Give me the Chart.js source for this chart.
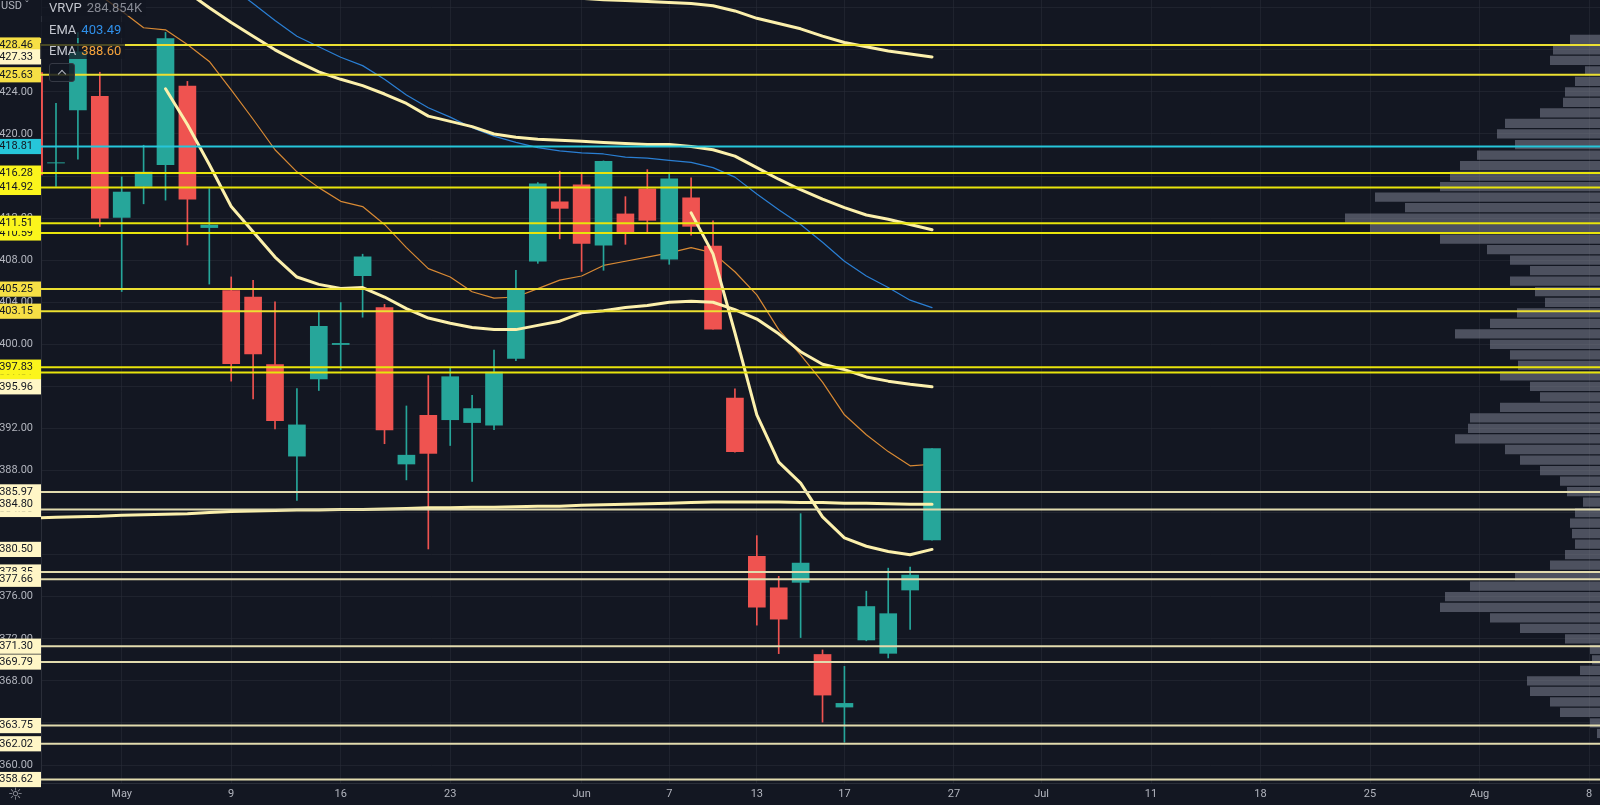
<!DOCTYPE html>
<html>
<head>
<meta charset="utf-8">
<title>SPY daily</title>
<script src="https://cdn.jsdelivr.net/npm/chart.js@4.4.1/dist/chart.umd.min.js"></script>
<style>
  html, body { margin: 0; padding: 0; background: #131722; }
  #wrap { position: relative; width: 1600px; height: 805px; overflow: hidden; }
  .ovl { position: absolute; font-family: Roboto, "Liberation Sans", sans-serif; white-space: nowrap; }
  .lg { left: 40px; padding: 0 4px 0 9px; height: 16px; line-height: 16px; font-size: 13px; background: rgba(19,23,34,0.75); }
  .nm { color: #c3c6ce; margin-right: 5px; }
  .dim { color: #868993; }
  .usd { left: 1px; top: -1px; font-size: 11px; color: #b2b5be; }
  .btn { left: 49px; top: 63px; width: 24px; height: 17px; border: 1px solid #363a45; border-radius: 3px; background: rgba(19,23,34,0.85); }
  .btn span { position: absolute; left: 9px; top: 7px; width: 5px; height: 5px; border-left: 1.5px solid #b2b5be; border-top: 1.5px solid #b2b5be; transform: rotate(45deg); }
  .gear { left: 8px; top: 784px; font-size: 17px; color: #9598a1; font-family: "DejaVu Sans", sans-serif; }
</style>
</head>
<body>
<div id="wrap">
  <canvas id="chart"></canvas>
  <div class="ovl usd">USD &#711;</div>
  <div class="ovl lg" style="top:0px"><span class="nm">VRVP</span><span class="dim">284.854K</span></div>
  <div class="ovl lg" style="top:22px"><span class="nm">EMA</span><span id="emaSlowTxt" style="color:#3090ea"></span></div>
  <div class="ovl lg" style="top:43px"><span class="nm">EMA</span><span id="emaFastTxt" style="color:#f5a33c"></span></div>
  <div class="ovl btn"><span></span></div>
  <div class="ovl gear">&#9788;</div>
</div>
<script>
// daily bars, Apr 26 .. Jun 24 (May 2 is bar 0)
const FIRST_BAR = -4;
const dates = ['Apr 26','Apr 27','Apr 28','Apr 29','May 2','May 3','May 4','May 5','May 6',
  'May 9','May 10','May 11','May 12','May 13','May 16','May 17','May 18','May 19','May 20',
  'May 23','May 24','May 25','May 26','May 27','May 31','Jun 1','Jun 2','Jun 3',
  'Jun 6','Jun 7','Jun 8','Jun 9','Jun 10','Jun 13','Jun 14','Jun 15','Jun 16','Jun 17',
  'Jun 21','Jun 22','Jun 23','Jun 24'];
const open = [425.83,417.24,422.29,423.59,412.07,415.01,417.08,424.55,411.10,
  405.10,404.49,398.07,389.37,396.71,399.98,406.53,403.50,388.62,393.25,
  392.83,392.56,392.31,398.67,407.91,413.55,415.17,409.42,412.40,
  414.78,408.10,413.93,409.34,394.88,379.85,376.85,377.37,370.51,365.51,
  371.89,370.62,376.64,381.40];
const high = [426.04,422.92,429.64,425.87,415.92,418.93,429.66,425.00,414.80,
  406.41,406.08,404.04,395.80,403.18,403.97,408.57,403.80,394.14,397.03,
  397.73,395.15,399.45,407.04,415.38,416.46,416.24,417.44,414.04,
  416.61,416.22,415.82,411.74,395.78,381.81,377.94,383.90,370.94,369.38,
  376.53,378.72,378.83,390.09];
const low = [416.07,415.01,417.60,411.21,405.02,413.36,413.71,409.44,405.73,
  396.50,394.82,391.95,385.15,395.61,397.60,402.58,390.55,387.11,380.54,
  390.38,386.96,391.89,398.45,407.70,410.03,406.93,407.04,409.51,
  410.55,407.61,410.38,401.44,389.75,373.30,370.59,372.12,364.08,362.17,
  371.81,370.18,372.89,381.37];
const close = [416.10,417.27,427.81,412.00,414.48,416.38,429.06,413.81,411.34,
  398.17,399.09,392.75,392.34,401.72,400.09,408.32,391.86,389.46,389.63,
  396.92,393.89,397.37,405.31,415.26,412.93,409.59,417.39,410.54,
  411.79,415.74,411.22,401.44,389.80,375.00,373.87,379.20,366.65,365.86,
  375.07,374.39,378.06,390.08];

// EMAs (thin lines)
const emaSlow = [null,null,null,null,null,null,null,null,435.5,
  434.0,432.4,430.8,429.3,428.3,427.3,426.5,425.2,423.7,422.5,
  421.6,420.6,419.8,419.2,418.7,418.4,418.2,418.1,417.8,
  417.7,417.5,417.3,416.8,415.9,414.3,412.8,411.4,409.7,407.9,
  406.5,405.4,404.2,403.49];
const emaFast = [437.5,436.0,434.6,433.2,431.7,430.1,429.9,428.5,426.9,
  424.2,421.4,418.5,416.4,414.9,413.6,413.1,411.4,409.2,407.2,
  406.4,405.0,404.4,404.5,405.3,406.1,406.5,407.5,407.9,
  408.3,408.7,409.2,408.7,406.9,404.7,401.4,399.0,396.4,393.3,
  391.4,389.8,388.45,388.60];

// anchored VWAP curves (thick lines)
const vwapTop = [null,null,null,null,null,null,null,null,null,
  null,null,null,null,null,null,null,null,null,null,
  null,null,null,434.3,433.6,433.1,432.9,432.76,432.7,
  432.6,432.5,432.4,432.2,431.7,431.0,430.5,430.0,429.3,428.7,
  428.3,427.9,427.6,427.33];
const vwapHigh = [null,null,null,null,null,null,435.0,433.5,432.0,
  430.6,429.3,428.0,426.9,425.9,425.2,424.6,423.8,422.9,421.7,
  421.2,420.7,420.0,419.7,419.5,419.4,419.3,419.2,419.1,
  419.0,419.0,418.8,418.5,417.9,416.8,415.7,414.7,413.8,413.0,
  412.3,411.9,411.4,410.9];
const vwapMay4 = [null,null,null,null,null,null,424.3,420.9,417.1,
  413.1,410.7,408.3,406.4,405.7,405.3,405.4,404.5,403.4,402.5,
  402.0,401.6,401.4,401.4,401.8,402.2,403.0,403.2,403.5,
  403.7,404.0,404.1,404.0,403.3,402.4,401.0,399.3,398.1,397.6,
  396.9,396.5,396.2,395.96];
const vwapLong = [383.5,383.55,383.6,383.65,383.75,383.8,383.85,383.9,384.0,
  384.1,384.15,384.2,384.25,384.25,384.3,384.3,384.35,384.4,384.45,
  384.45,384.5,384.5,384.55,384.6,384.6,384.7,384.75,384.8,
  384.85,384.9,384.95,385.0,385.0,385.0,385.0,384.95,384.95,384.9,
  384.9,384.85,384.8,384.80];
const vwapJun8 = [null,null,null,null,null,null,null,null,null,
  null,null,null,null,null,null,null,null,null,null,
  null,null,null,null,null,null,null,null,null,
  null,null,412.5,408.6,401.1,393.3,388.8,386.8,383.6,381.6,
  380.8,380.3,380.0,380.50];

// horizontal price levels (draw order matters for the scale tags)
const levelsGold = [428.46, 425.63, 405.25, 403.15];
const levelsYellow = [410.59, 411.51, 397.31, 397.83, 416.28, 414.92];
const levelsCyan = [418.81];
const levelsCream = [384.30, 378.35, 385.97, 377.66, 371.30, 369.79, 363.75, 362.02, 358.62];

// visible range volume profile (1-point rows)
const profilePrice = [363,364,365,366,367,368,369,370,371,372,373,374,375,376,377,378,379,380,
  381,382,383,384,385,386,387,388,389,390,391,392,393,394,395,396,397,398,399,400,
  401,402,403,404,405,406,407,408,409,410,411,412,413,414,415,416,417,418,419,420,
  421,422,423,424,425,426,427,428,429];
const profileVol = [30,100,400,500,700,730,200,80,100,350,800,1100,1600,1550,1300,850,500,350,
  250,280,300,250,170,330,400,600,800,950,1450,1320,1300,1000,600,700,1000,820,900,1100,
  1450,1100,830,550,650,900,700,900,1130,1600,2300,2550,1950,2250,1600,1500,1400,1230,850,1030,
  950,600,370,350,250,150,500,470,300];

// axes
const yTickValues = [360,364,368,372,376,380,384,388,392,396,400,404,408,412,416,420,424,428,432];
const xTickPos = [0,5,10,15,21,25,29,33,38,42,47,52,57,62,67];
const xTickText = ['May','9','16','23','Jun','7','13','17','27','Jul','11','18','25','Aug','8'];

const X_MIN = -3.685, X_MAX = 67.5;
const Y_MIN = 358.29, Y_MAX = 432.74;
const VOL_MAX = 15590;

const UP = '#26a69a', DOWN = '#ef5350';
const barX = dates.map((d, k) => k + FIRST_BAR);
const candleColor = close.map((c, k) => c >= open[k] ? UP : DOWN);

const curvePts = arr => arr.map((v, k) => ({ x: barX[k], y: v })).filter(p => p.y !== null);
const last = arr => arr[arr.length - 1];

document.getElementById('emaSlowTxt').textContent = last(emaSlow).toFixed(2);
document.getElementById('emaFastTxt').textContent = last(emaFast).toFixed(2);

// scale tag styles
const tagStyle = new Map();
levelsCream.forEach(v => tagStyle.set(v, '#fff6c6'));
levelsGold.forEach(v => tagStyle.set(v, '#f6df45'));
levelsYellow.forEach(v => tagStyle.set(v, '#fbf51c'));
levelsCyan.forEach(v => tagStyle.set(v, '#26c6da'));
const curveTags = [vwapTop, vwapMay4, vwapLong, vwapJun8].map(last);
curveTags.forEach(v => tagStyle.set(v, '#fff6c6'));
const tagOrder = [...levelsCream, ...levelsGold, ...levelsYellow, ...levelsCyan, ...curveTags];

function levelSet(levels, color, width) {
  return levels.map(v => ({
    type: 'line',
    data: [{ x: X_MIN - 1, y: v }, { x: X_MAX + 1, y: v }],
    borderColor: color,
    borderWidth: width,
    pointRadius: 0,
    order: 0
  }));
}

function curveSet(arr, color, width, order) {
  return {
    type: 'line',
    data: curvePts(arr),
    borderColor: color,
    borderWidth: width,
    pointRadius: 0,
    tension: 0,
    borderJoinStyle: 'round',
    borderCapStyle: 'round',
    order: order
  };
}

const datasets = [
  ...levelSet(levelsCream, '#e2dbae', 2),
  ...levelSet(levelsGold, '#ece032', 2),
  ...levelSet(levelsYellow, '#e8e40c', 2),
  ...levelSet(levelsCyan, '#26c6da', 2),
  curveSet(vwapTop, '#fcf0ac', 3, 1),
  curveSet(vwapHigh, '#fcf0ac', 3, 1),
  curveSet(vwapMay4, '#fcf0ac', 3, 1),
  curveSet(vwapLong, '#fcf0ac', 3, 1),
  curveSet(vwapJun8, '#fcf0ac', 3, 1),
  {
    type: 'bar',
    data: barX.map((x, k) => ({ x: x, y: [open[k], close[k]] })),
    backgroundColor: candleColor,
    borderWidth: 0,
    barThickness: 17,
    grouped: false,
    order: 2
  },
  {
    type: 'bar',
    data: barX.map((x, k) => ({ x: x, y: [low[k], high[k]] })),
    backgroundColor: candleColor,
    borderWidth: 0,
    barThickness: 1,
    grouped: false,
    order: 3
  },
  curveSet(emaSlow, '#2a7fd4', 1.2, 4),
  curveSet(emaFast, '#d98a34', 1.2, 4),
  {
    type: 'bar',
    indexAxis: 'y',
    xAxisID: 'xv',
    yAxisID: 'yv',
    data: profilePrice.map((p, j) => ({ x: profileVol[j], y: p })),
    backgroundColor: 'rgba(135,140,155,0.5)',
    borderWidth: 0,
    categoryPercentage: 1,
    barPercentage: 0.88,
    grouped: false,
    order: 5
  }
];

const gridColor = 'rgba(42,46,57,0.55)';

new Chart(document.getElementById('chart'), {
  data: { datasets },
  options: {
    responsive: true,
    maintainAspectRatio: false,
    animation: false,
    events: [],
    layout: { padding: 0 },
    plugins: { legend: { display: false }, tooltip: { enabled: false } },
    scales: {
      x: {
        type: 'linear',
        position: 'bottom',
        min: X_MIN,
        max: X_MAX,
        offset: false,
        afterBuildTicks: s => { s.ticks = xTickPos.map(v => ({ value: v })); },
        afterFit: s => { s.height = 22; s.paddingLeft = 0; s.paddingRight = 0; },
        ticks: {
          autoSkip: false,
          maxRotation: 0,
          padding: 5,
          color: '#b2b5be',
          font: { family: 'Roboto', size: 11 },
          callback: v => xTickText[xTickPos.indexOf(v)]
        },
        grid: { color: gridColor, drawTicks: false, offset: false },
        border: { color: '#2a2e39' }
      },
      y: {
        type: 'linear',
        position: 'left',
        min: Y_MIN,
        max: Y_MAX,
        beginAtZero: false,
        afterBuildTicks: s => { s.ticks = [...yTickValues, ...tagOrder].map(v => ({ value: v })); },
        afterFit: s => { s.width = 41; s.paddingTop = 0; s.paddingBottom = 0; },
        ticks: {
          autoSkip: false,
          padding: 8,
          font: { family: 'Roboto', size: 11 },
          color: ctx => tagStyle.has(ctx.tick.value) ? '#131722' : '#b2b5be',
          showLabelBackdrop: ctx => tagStyle.has(ctx.tick.value),
          backdropColor: ctx => tagStyle.get(ctx.tick.value) || 'transparent',
          backdropPadding: { top: 1, bottom: 1, left: 10, right: 8 },
          // the top grid line keeps no label, as on the original scale
          callback: v => (v > Y_MAX - 1.5 ? '' : v.toFixed(2))
        },
        grid: {
          drawTicks: false,
          color: ctx => (ctx.tick && tagStyle.has(ctx.tick.value)) ? 'transparent' : gridColor
        },
        border: { color: '#2a2e39' }
      },
      xv: { type: 'linear', axis: 'x', display: false, reverse: true, min: 0, max: VOL_MAX, beginAtZero: false },
      yv: { type: 'linear', axis: 'y', display: false, min: Y_MIN, max: Y_MAX, offset: false, grid: { offset: false } }
    }
  }
});
</script>
</body>
</html>
